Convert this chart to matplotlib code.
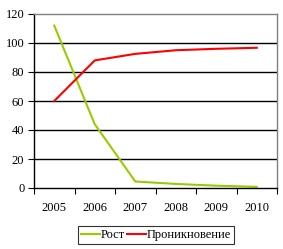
import matplotlib
matplotlib.use("Agg")
import matplotlib.pyplot as plt
import numpy as np

years = ["2005", "2006", "2007", "2008", "2009", "2010"]
rost = [112, 44, 4.5, 2.8, 1.6, 0.8]
pronik = [60, 88, 92.5, 95, 96, 96.7]

plt.rcParams['font.family'] = ['Liberation Serif', 'DejaVu Serif']

fig = plt.figure(figsize=(2.83, 2.49), dpi=100)
ax = fig.add_axes([34/283, 1-188/249, (277-34)/283, (188-14)/249])

x = np.arange(len(years))
ax.plot(x, rost, color='#99CC00', lw=1.5, label='Рост')
ax.plot(x, pronik, color='#FF0000', lw=1.5, label='Проникновение')

ax.set_xlim(-0.5, len(years)-0.5)
ax.set_ylim(0, 120)
ax.set_yticks(range(0, 121, 20))
ax.set_xticks(x)
ax.set_xticklabels(years)
ax.set_xticks(np.arange(-0.5, len(years), 1), minor=True)
ax.tick_params(axis='x', which='major', length=0, labelsize=9, pad=10)
ax.tick_params(axis='x', which='minor', length=4, direction='out', width=0.8)
ax.tick_params(axis='y', length=4, direction='out', width=0.8, labelsize=9, pad=3)
for yv in range(20, 120, 20):
    ax.axhline(yv, color='black', lw=1, zorder=0)
ax.spines['top'].set_color('#808080')
ax.spines['right'].set_color('#808080')
ax.spines['left'].set_color('black')
ax.spines['bottom'].set_color('black')
for s in ax.spines.values():
    s.set_linewidth(1)

leg = fig.legend(loc='center', bbox_to_anchor=(156/283, 1-235/249), ncol=2, fontsize=9,
                 frameon=True, fancybox=False, edgecolor='black', handlelength=1.5,
                 handletextpad=0.05, columnspacing=0.15, borderpad=0.25, borderaxespad=0)
leg.get_frame().set_linewidth(0.8)

fig.savefig('out.png', dpi=100)
